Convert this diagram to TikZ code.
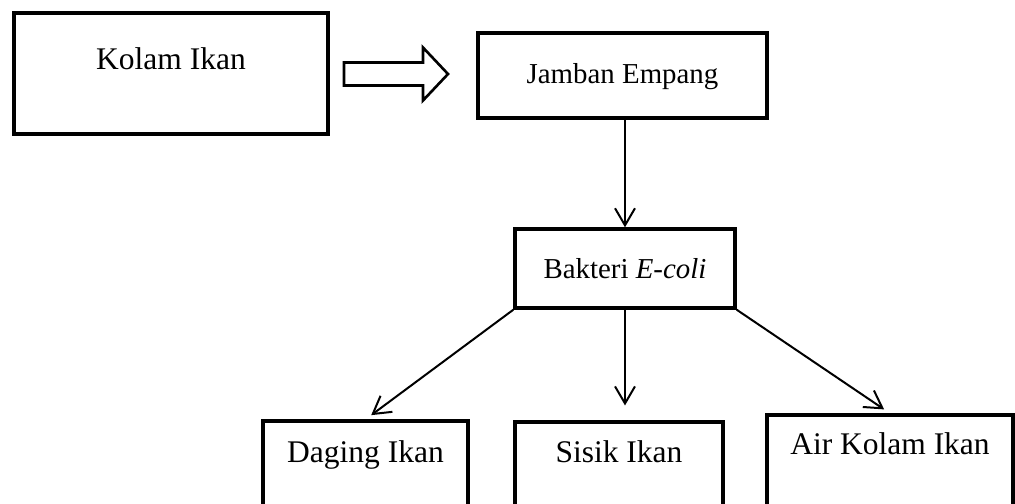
\documentclass[tikz,border=0pt]{standalone}
\usepackage{fontspec}
\setmainfont{Liberation Serif}
\usetikzlibrary{arrows.meta,calc}

\begin{document}
\begin{tikzpicture}[x=0.381pt,y=-0.381pt,
    kotak/.style={draw,line width=1.3pt,inner sep=0pt,font=\fontsize{12}{14}\selectfont},
    panah/.style={line width=0.76pt,-{Straight Barb[length=6.5pt,width=7.6pt,line width=0.76pt]}}]
        \useasboundingbox (0,0) rectangle (1015,503);
        \clip (0,0) rectangle (1015,503);

        \node[kotak,minimum width=119.6pt,text height=21.7pt,text depth=24.4pt] (kolam) at (171,73.5) {Kolam Ikan};
        \node[kotak,minimum width=110.1pt,text height=19.1pt,text depth=13.3pt,font=\fontsize{11}{13}\selectfont] (jamban) at (622.5,75.5) {Jamban Empang};
        \node[kotak,minimum width=83.8pt,text height=18.7pt,text depth=11.4pt,font=\fontsize{11}{13}\selectfont] (bakteri) at (625,268.5) {Bakteri \textit{E-coli}};
        \node[kotak,minimum width=78.1pt,text height=15.6pt,text depth=37.3pt] (daging) at (365.5,490.5) {Daging Ikan};
        \node[kotak,minimum width=79.2pt,text height=15.2pt,text depth=37.3pt] (sisik) at (619,491) {Sisik Ikan};
        \node[kotak,minimum width=93.7pt,text height=15.2pt,text depth=40pt] (air) at (890,487.5) {Air Kolam Ikan};

        % panah blok
        \coordinate (blok) at (344,74);
        \draw[line width=1pt] (blok) ++(0,-11.5) -- ++(79,0) -- ++(0,-15) -- ++(25,26.5)
            -- ++(-25,26.5) -- ++(0,-15) -- ++(-79,0) -- cycle;

        \draw[panah] (bakteri.north |- jamban.south) -- (bakteri.north);
        \draw[panah,shorten >=2.7pt] (bakteri.south west) -- (daging.north);
        \draw[panah,shorten >=5.7pt] (bakteri.south) -- (bakteri.south |- sisik.north);
        \draw[panah,shorten >=2.7pt] (bakteri.south east) -- (air.north);
      \end{tikzpicture}
\end{document}
